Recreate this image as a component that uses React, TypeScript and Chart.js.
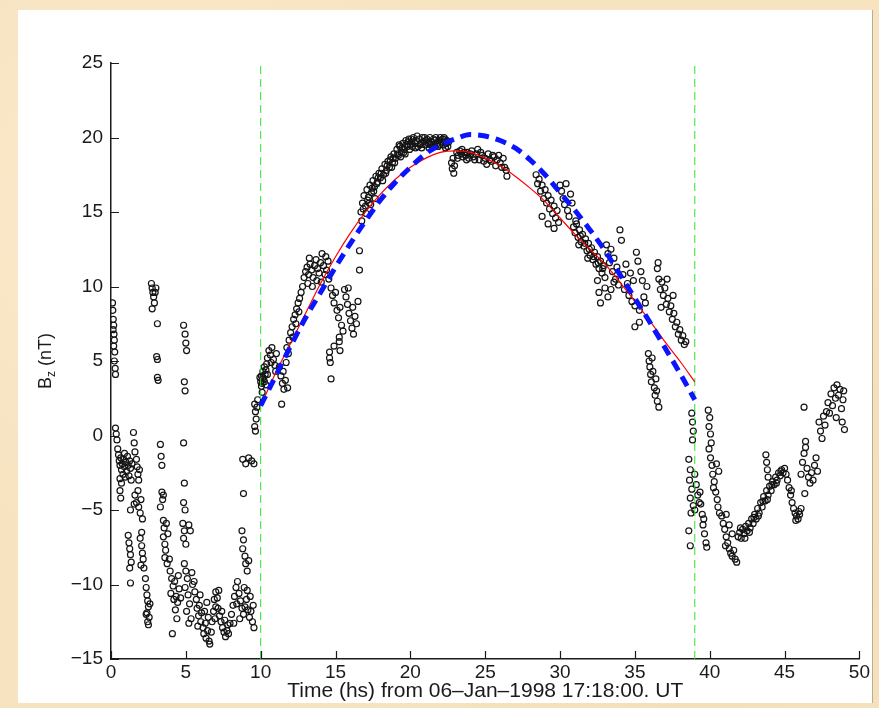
import React, { useEffect, useRef } from "react";
import { Chart, registerables } from "chart.js";

Chart.register(...registerables);

type Pt = [number, number];

// Axis ticks
const xTicks = [0, 5, 10, 15, 20, 25, 30, 35, 40, 45, 50];
const yTicks = [-15, -10, -5, 0, 5, 10, 15, 20, 25];
const xTitle = "Time (hs) from 06\u2013Jan\u20131998 17:18:00. UT";

// Cloud boundaries (green dashed lines)
const boundaryTimes = [10, 39];

// Fit curves
const fitTimes = [10, 11, 12, 13, 14, 15, 16, 17, 18, 19, 20, 21, 22, 23, 24, 25, 26, 27, 28, 29, 30, 31, 32, 33, 34, 35, 36, 37, 38, 39];
const redFit = [2.0, 4.2, 6.2, 8.2, 10.2, 12.0, 13.6, 15.0, 16.2, 17.2, 18.0, 18.6, 19.0, 19.1, 19.0, 18.6, 18.1, 17.4, 16.6, 15.7, 14.6, 13.5, 12.5, 11.5, 10.3, 9.0, 7.7, 6.3, 5.0, 3.6];
const blueFit = [2.0, 4.0, 6.0, 7.9, 9.6, 11.3, 12.9, 14.4, 15.8, 17.0, 18.0, 18.9, 19.5, 19.9, 20.2, 20.1, 19.8, 19.3, 18.5, 17.5, 16.3, 15.1, 13.8, 12.4, 10.8, 9.2, 7.6, 5.9, 4.2, 2.4];

// Observed Bz (time [hs], Bz [nT])
const obsQuiet: Pt[] = [
  [0.10, 8.9], [0.12, 8.4], [0.15, 7.8], [0.18, 7.4], [0.14, 7.1], [0.20, 6.8], [0.22, 6.4], [0.18, 6.0], [0.25, 5.6], [0.22, 5.0], [0.28, 4.5], [0.30, 4.1],
  [0.30, 0.5], [0.35, 0.1], [0.40, -0.3], [0.45, -0.9],
  [0.50, -1.3], [0.55, -1.7], [0.60, -2.0], [0.65, -1.5], [0.70, -2.3], [0.75, -1.9], [0.80, -2.6], [0.85, -1.6], [0.90, -2.1], [0.95, -2.8], [1.00, -1.8], [1.05, -2.4], [1.10, -1.4], [1.15, -2.0], [1.20, -2.7], [1.25, -1.7], [1.30, -2.2], [1.35, -3.0], [0.60, -2.9], [0.70, -3.2], [0.90, -1.2], [1.40, -1.9],
  [1.50, 0.2], [1.55, -0.5], [1.60, -1.1], [1.70, -1.6], [1.75, -2.1], [1.80, -2.6], [1.85, -3.0], [1.90, -2.3],
  [0.60, -3.7], [0.65, -4.2], [1.30, -5.0], [1.60, -4.0], [1.70, -4.5], [1.80, -3.7], [1.85, -4.8], [1.95, -5.2], [2.00, -4.3], [2.10, -5.6], [1.55, -4.6],
  [1.15, -6.7], [1.20, -7.2], [1.25, -7.6], [1.30, -8.0], [1.35, -8.5], [1.25, -8.9], [1.95, -6.9], [2.05, -7.4], [2.10, -7.9], [2.15, -8.3], [2.00, -8.7], [2.20, -8.9], [1.30, -9.9], [2.05, -6.5],
  [2.30, -9.6], [2.35, -10.2], [2.40, -10.7], [2.45, -11.1], [2.50, -11.5], [2.40, -11.9], [2.55, -12.2], [2.45, -12.5], [2.60, -11.3], [2.50, -12.7], [2.35, -12.0],
  [2.70, 10.2], [2.75, 9.9], [2.80, 9.6], [2.85, 9.3], [2.90, 8.9], [2.75, 8.5], [3.00, 9.9], [2.95, 9.6],
  [3.10, 7.5], [3.05, 5.3], [3.10, 5.1], [3.10, 3.9], [3.15, 3.7],
  [3.30, -0.6], [3.35, -1.4], [3.40, -2.0],
  [3.40, -3.8], [3.45, -4.3], [3.30, -4.8], [3.50, -4.0],
  [3.50, -5.7], [3.55, -6.2], [3.50, -6.8], [3.60, -7.3], [3.65, -7.7], [3.60, -8.2], [3.75, -8.6], [3.70, -5.9], [3.80, -6.6],
  [3.95, -9.1], [4.05, -9.6], [4.15, -10.1], [4.00, -10.6], [4.25, -9.8], [4.35, -10.8], [4.45, -11.2], [4.30, -11.7], [4.55, -10.3], [4.65, -10.9], [4.10, -13.3], [4.40, -12.3], [4.20, -11.0], [3.90, -8.3], [4.50, -9.4],
  [4.85, 7.4], [4.95, 6.8], [5.00, 6.2], [5.05, 5.7], [4.90, 3.6], [4.95, 3.0], [4.85, -0.5], [4.90, -3.2], [4.85, -4.5], [4.95, -5.0], [4.80, -5.9], [4.90, -6.4], [4.85, -6.9], [5.00, -7.3], [5.20, -6.0], [5.30, -6.4],
  [4.90, -8.6], [5.00, -9.1], [5.10, -9.6], [4.95, -10.2], [5.15, -10.7], [5.25, -11.3], [5.05, -11.8], [5.35, -12.3], [5.20, -12.6], [5.40, -9.2], [5.45, -10.0],
  [5.55, -9.8], [5.60, -10.5], [5.70, -11.0], [5.75, -11.6], [5.85, -12.1], [5.90, -11.4], [6.00, -12.5], [6.05, -11.9], [6.15, -12.9], [6.20, -13.3], [6.30, -12.6], [6.35, -13.6], [6.45, -13.1], [6.55, -13.8], [6.60, -14.0], [6.50, -12.2], [5.95, -10.7], [6.25, -11.8], [6.40, -11.2], [5.80, -12.8],
  [6.70, -13.2], [6.75, -12.5], [6.85, -11.8], [6.90, -11.0], [7.00, -10.5], [7.10, -10.9], [7.15, -11.6], [7.25, -12.1], [7.35, -12.5], [7.45, -12.9], [7.55, -13.2], [7.65, -13.5], [7.75, -13.1], [7.85, -13.3], [7.00, -11.5], [7.20, -10.4], [7.40, -11.8], [7.60, -12.4], [7.80, -12.7], [6.95, -12.3],
  [7.95, -12.6], [8.05, -12.0], [8.15, -11.4], [8.25, -10.8], [8.35, -10.2], [8.45, -9.8], [8.55, -10.6], [8.65, -11.1], [8.75, -11.6], [8.85, -12.0], [8.95, -11.5], [9.05, -11.0], [9.15, -11.7], [9.25, -12.2], [9.35, -11.8], [9.45, -12.5], [9.55, -12.9], [8.40, -11.3], [8.60, -12.3], [9.10, -10.4], [9.30, -10.8], [9.50, -11.4], [8.20, -12.6], [8.90, -10.2],
  [8.75, -6.4], [8.85, -7.0], [8.80, -7.6], [8.95, -8.1], [9.00, -8.6], [9.10, -9.1], [9.20, -8.4], [8.85, -3.9], [8.80, -1.6], [9.00, -1.9], [9.20, -1.5], [9.40, -1.7], [9.55, -1.9],
  [9.60, 2.1], [9.65, 1.6], [9.70, 1.1], [9.60, 0.6], [9.65, 0.3],
];

const obsRise: Pt[] = [
  [9.75, 1.9], [9.80, 2.4], [10.00, 3.6], [10.05, 4.0], [10.10, 3.5], [10.15, 4.3], [10.20, 3.8], [10.25, 4.6], [10.30, 4.1], [10.35, 3.4], [10.40, 4.8], [10.10, 2.9],
  [10.05, 3.3], [10.15, 3.9], [10.25, 3.6], [10.35, 4.4], [10.45, 4.1], [9.95, 3.9],
  [10.45, 5.2], [10.55, 5.7], [10.65, 5.4], [10.75, 5.9], [10.85, 5.1], [10.95, 4.7], [11.05, 5.5], [11.00, 4.3], [10.70, 4.9],
  [11.25, 4.6], [11.35, 4.0], [11.45, 3.5], [11.55, 3.1], [11.50, 4.3], [11.65, 3.7], [11.40, 2.1], [11.70, 4.9], [11.80, 3.2],
  [11.75, 5.9], [11.90, 6.4], [12.00, 6.9], [12.10, 7.3], [12.20, 7.8], [12.30, 8.1], [12.40, 8.5], [12.50, 8.9], [12.60, 9.2], [12.15, 6.6], [12.35, 7.5], [12.55, 8.3], [11.85, 5.5], [12.70, 9.6], [12.80, 10.0],
  [12.90, 10.6], [13.00, 11.0], [13.10, 11.3], [13.20, 10.8], [13.30, 11.5], [13.40, 11.1], [13.50, 10.6], [13.60, 11.4], [13.70, 11.8], [13.80, 11.2], [13.90, 10.9], [14.00, 11.6], [14.10, 12.2], [14.20, 11.4], [14.30, 10.8], [14.40, 11.1], [14.50, 11.7], [13.15, 10.2], [13.45, 10.0], [13.75, 10.4], [14.05, 10.3], [14.35, 12.0], [14.55, 10.5], [13.25, 11.9],
  [14.70, 9.9], [14.80, 9.4], [14.90, 8.9], [15.00, 9.6], [15.10, 8.4], [15.20, 7.9], [15.30, 8.6], [15.40, 7.4], [15.50, 7.0], [15.60, 9.8], [15.70, 9.3], [15.80, 8.8], [15.90, 8.2], [16.00, 7.7], [16.10, 7.2], [16.20, 6.8], [16.30, 8.0], [16.40, 7.5], [16.50, 9.0], [15.85, 9.9], [16.15, 8.6], [15.25, 6.6], [14.90, 6.0], [15.30, 5.7], [15.25, 6.3],
  [14.60, 5.2], [14.65, 4.9], [14.70, 3.8], [14.60, 5.6],
  [16.60, 12.4], [16.60, 11.1],
  [16.70, 15.0], [16.80, 15.6], [16.90, 16.1], [17.00, 15.4], [17.10, 16.5], [17.20, 16.0], [17.30, 16.8], [17.40, 16.3], [17.50, 17.1], [17.60, 16.7], [17.70, 17.4], [17.80, 17.0], [17.90, 17.6], [18.00, 17.3], [18.10, 17.9], [18.20, 17.5], [18.30, 18.2], [18.40, 17.8], [18.50, 18.4], [18.60, 18.0], [18.70, 18.7], [18.80, 18.3], [18.90, 18.9], [19.00, 18.6], [16.75, 14.4], [17.05, 14.9], [17.35, 15.5],
  [17.15, 15.8], [17.45, 16.6], [17.75, 16.9], [18.05, 17.6], [18.35, 17.6], [18.65, 18.5], [18.95, 18.3], [16.85, 15.2],
  [17.25, 15.6], [17.55, 16.4], [17.85, 17.3], [18.15, 17.1], [18.45, 18.1], [18.75, 18.0], [18.85, 18.6], [17.65, 15.9],
];

const obsCrest: Pt[] = [
  [19.10, 19.2], [19.20, 18.8], [19.30, 19.4], [19.40, 19.0], [19.50, 19.6], [19.60, 19.2], [19.70, 19.8], [19.80, 19.4], [19.90, 19.9], [20.00, 19.5], [20.10, 19.7], [20.20, 20.0], [20.30, 19.6], [20.40, 19.8], [20.50, 19.4], [20.60, 19.9], [20.70, 19.6], [20.80, 20.0], [20.90, 19.7], [21.00, 19.5], [21.10, 19.9], [21.20, 19.6], [21.30, 20.0], [21.40, 19.7], [21.50, 19.5], [21.60, 19.8], [21.70, 20.0], [21.80, 19.6], [21.90, 19.8], [22.00, 20.0], [22.10, 19.7], [22.20, 19.5], [22.30, 19.9], [22.40, 19.6], [22.50, 19.4],
  [19.15, 18.9], [19.45, 19.3], [19.75, 19.5], [20.05, 19.9], [20.35, 19.3], [20.65, 19.5], [20.95, 20.0], [21.25, 19.3], [21.55, 19.9], [21.85, 19.4], [22.15, 19.9], [22.45, 19.8], [19.35, 18.7], [19.65, 18.9], [19.95, 19.2],
  [19.25, 19.5], [19.55, 19.0], [19.85, 19.7], [20.15, 19.4], [20.45, 20.1], [20.75, 19.3], [21.05, 19.8], [21.35, 19.5], [21.65, 19.6], [21.95, 19.5], [22.25, 20.0], [22.55, 19.7], [22.35, 19.3],
  [22.75, 18.3], [22.80, 17.9], [22.85, 18.6], [22.90, 17.6], [22.95, 18.1],
  [23.10, 19.0], [23.20, 18.8], [23.30, 19.1], [23.40, 18.9], [23.50, 18.7], [23.60, 19.0], [23.70, 18.8], [23.80, 19.0], [23.90, 18.6], [24.00, 18.9], [24.20, 18.7], [24.40, 18.9], [24.60, 18.5], [24.80, 18.8], [25.00, 18.6], [25.20, 18.9], [25.40, 18.4], [25.60, 18.7], [25.80, 18.5], [26.00, 18.3], [26.20, 18.6], [26.40, 17.8], [24.50, 19.2], [25.10, 18.2], [25.70, 18.1], [26.30, 18.0], [26.45, 17.4],
  [23.15, 18.6], [23.45, 19.2], [23.75, 18.5], [24.10, 19.1], [24.30, 18.5], [24.70, 19.0], [24.90, 18.4], [25.30, 18.5], [25.50, 18.8], [25.90, 18.8], [26.10, 18.0],
];

const obsDecay: Pt[] = [
  [28.40, 17.5], [28.50, 16.9], [28.60, 17.2], [28.70, 16.4], [28.80, 16.8], [28.90, 15.9], [29.00, 16.5], [29.10, 15.6], [29.20, 16.1], [29.30, 15.2], [29.40, 15.8], [29.50, 14.9], [29.60, 15.4], [29.70, 14.6], [29.80, 15.1], [29.90, 14.3], [30.00, 16.8], [30.10, 16.4], [30.20, 15.9], [30.30, 15.5], [30.40, 16.9], [30.50, 15.1], [28.80, 14.7], [29.20, 14.2], [29.60, 13.9], [30.60, 14.7], [30.70, 16.2], [30.80, 15.6],
  [30.90, 14.0], [31.00, 13.6], [31.10, 14.2], [31.20, 13.3], [31.30, 13.8], [31.40, 13.0], [31.50, 13.5], [31.60, 12.7], [31.70, 13.2], [31.80, 12.4], [31.90, 12.9], [32.00, 12.1], [32.10, 12.6], [32.20, 11.8], [32.30, 12.3], [32.40, 11.5], [32.50, 12.0], [32.60, 11.2], [32.70, 11.7], [32.80, 10.9], [32.90, 11.4], [33.00, 10.6],
  [31.05, 14.4], [31.35, 13.4], [31.65, 12.9], [31.95, 12.5], [32.25, 12.0], [32.55, 11.6], [32.85, 11.2], [31.25, 12.8], [31.85, 11.9],
  [32.50, 10.4], [32.60, 9.6], [32.70, 8.9], [33.00, 9.9], [33.20, 9.3], [33.40, 9.8], [33.60, 10.3],
  [33.10, 12.8], [33.20, 12.2], [33.30, 11.6], [33.40, 12.5], [33.50, 11.0], [33.60, 11.9], [33.70, 10.5], [33.80, 11.3], [33.90, 10.1], [34.00, 13.8], [34.10, 13.1], [34.20, 10.8], [34.30, 9.8], [34.40, 11.5], [34.50, 10.2], [34.60, 9.4], [34.70, 10.9], [34.80, 9.0], [34.90, 10.4], [35.00, 8.7], [35.10, 12.3], [35.20, 11.7], [35.30, 8.4], [35.40, 11.0], [35.50, 10.4], [35.60, 9.3], [35.70, 8.9], [35.80, 10.0], [35.30, 7.6], [35.00, 7.3],
  [35.90, 5.5], [35.95, 5.0], [36.00, 4.6], [36.05, 4.1], [36.10, 3.6], [36.20, 4.3], [36.30, 3.2], [36.35, 2.7], [36.40, 3.8], [36.50, 2.3], [36.60, 1.9], [36.15, 5.2], [36.45, 3.0],
  [36.50, 11.2], [36.60, 10.5], [36.70, 9.8], [36.55, 11.6], [36.80, 10.3], [36.90, 9.4], [37.00, 9.9], [37.10, 8.8], [37.20, 9.2], [37.30, 8.3], [37.40, 8.7], [37.50, 7.8], [37.60, 8.2], [37.70, 7.3], [37.80, 7.6], [37.90, 6.8], [38.00, 7.1], [38.10, 6.4], [38.20, 6.7], [38.30, 6.1], [38.40, 6.3], [36.75, 8.6], [37.15, 10.5], [37.55, 9.4],
];

const obsRecovery: Pt[] = [
  [38.80, 1.5], [38.85, 0.9], [38.90, 0.3], [38.85, -0.3],
  [38.60, -1.6], [38.70, -2.3], [38.65, -3.0], [38.80, -3.6], [38.70, -4.2], [38.90, -4.7], [38.75, -5.2], [38.60, -6.4], [38.70, -7.4], [39.00, -2.6], [39.10, -3.3], [39.20, -4.0], [39.00, -5.0], [39.30, -4.5],
  [39.90, 1.7], [40.00, 1.2], [39.95, 0.6], [40.05, 0.1], [40.10, -0.5],
  [39.95, -0.9], [40.05, -1.5], [40.15, -2.0], [40.20, -2.6], [40.30, -3.1], [40.25, -3.5], [40.40, -3.8], [40.50, -4.3], [40.55, -4.8], [40.65, -5.2], [40.45, -1.9], [40.60, -2.4],
  [39.35, -3.8], [39.40, -4.6], [39.50, -5.3], [39.55, -6.0], [39.65, -6.6], [39.75, -7.2], [39.80, -7.5], [39.60, -5.6],
  [40.80, -5.4], [40.90, -5.9], [41.00, -6.3], [41.10, -6.8], [41.20, -7.2], [41.30, -7.6], [41.40, -7.9], [41.50, -8.1], [41.60, -7.7], [41.70, -8.3], [41.80, -8.5], [41.10, -5.3], [41.30, -6.0], [41.50, -6.6], [41.05, -7.4],
  [41.90, -6.8], [42.00, -6.5], [42.10, -6.9], [42.20, -6.3], [42.30, -6.6], [42.40, -6.1], [42.50, -6.4], [42.60, -5.9], [42.70, -6.2], [42.80, -5.6], [42.90, -5.9], [43.00, -5.3], [43.10, -5.6], [43.20, -4.9], [43.30, -5.2], [43.40, -4.5], [43.50, -4.8], [43.60, -4.1], [43.70, -4.4], [43.80, -3.7], [43.90, -4.0], [44.00, -3.4], [44.10, -3.7], [44.20, -3.1], [44.30, -3.3], [44.40, -2.8], [44.50, -3.0], [44.60, -2.5], [44.70, -2.7], [44.80, -2.3], [44.90, -2.5], [45.00, -2.2], [45.10, -2.6], [43.75, -1.3], [43.80, -1.8], [43.85, -2.3], [43.90, -2.8],
  [42.05, -6.2], [42.35, -6.9], [42.65, -6.5], [42.95, -5.5], [43.25, -5.4], [43.55, -4.4], [43.85, -4.3], [44.15, -3.3], [44.45, -3.2], [44.75, -2.4],
  [45.20, -3.0], [45.30, -3.5], [45.40, -4.0], [45.50, -4.5], [45.60, -4.9], [45.70, -5.2], [45.80, -5.4], [45.90, -5.6], [46.00, -5.3], [46.10, -4.9], [45.75, -5.7], [45.95, -5.1], [45.45, -3.7],
  [46.10, -2.6], [46.20, -1.8], [46.30, -1.2], [46.40, -0.8], [46.50, -2.2], [46.60, -2.8], [46.70, -3.2], [46.80, -2.5], [46.90, -3.0], [47.00, -2.0], [47.10, -1.5], [47.20, -2.4], [46.35, -3.9], [46.40, -0.4], [46.30, 1.9],
  [47.30, 0.9], [47.40, 0.3], [47.50, -0.2], [47.60, 1.3], [47.70, 0.7], [47.80, 1.6], [47.90, 2.2], [48.00, 1.5], [48.10, 2.8], [48.20, 2.0], [48.30, 3.2], [48.40, 2.5], [48.50, 3.4], [48.60, 2.7], [48.70, 3.1], [48.80, 1.8], [48.90, 2.4], [49.00, 0.4], [48.85, 0.9], [48.95, 3.0], [48.45, 1.2],
];

const FONT = '"Liberation Sans", Arial, Helvetica, sans-serif';
const INK = "#1a1a1a";

const fmt = (v: number) => (v < 0 ? "\u2212" + Math.abs(v) : String(v));

const decorPlugin = {
  id: "decor",
  afterDraw(chart: any) {
    const { ctx, chartArea: a, scales } = chart;
    const xs = scales.x;
    const ys = scales.y;
    ctx.save();
    ctx.strokeStyle = INK;
    ctx.lineWidth = 1.2;
    ctx.beginPath();
    xTicks.forEach((v) => {
      const p = Math.round(xs.getPixelForValue(v)) + 0.5;
      ctx.moveTo(p, a.bottom);
      ctx.lineTo(p, a.bottom - 8);
    });
    yTicks.forEach((v) => {
      const p = Math.round(ys.getPixelForValue(v)) + 0.5;
      ctx.moveTo(a.left, p);
      ctx.lineTo(a.left + 8, p);
    });
    ctx.stroke();

    ctx.fillStyle = INK;
    ctx.font = `21px ${FONT}`;
    ctx.textAlign = "center";
    ctx.textBaseline = "middle";
    ctx.fillText(xTitle, (a.left + a.right) / 2, a.bottom + 32);

    ctx.translate(a.left - 66, (a.top + a.bottom) / 2);
    ctx.rotate(-Math.PI / 2);
    const mainFont = `18px ${FONT}`;
    const subFont = `12px ${FONT}`;
    ctx.font = mainFont;
    const wB = ctx.measureText("B").width;
    const rest = " (nT)";
    const wRest = ctx.measureText(rest).width;
    ctx.font = subFont;
    const wz = ctx.measureText("z").width;
    let x0 = -(wB + wz + wRest) / 2;
    ctx.textAlign = "left";
    ctx.textBaseline = "alphabetic";
    ctx.font = mainFont;
    ctx.fillText("B", x0, 6);
    x0 += wB;
    ctx.font = subFont;
    ctx.fillText("z", x0, 10);
    x0 += wz;
    ctx.font = mainFont;
    ctx.fillText(rest, x0, 6);
    ctx.restore();
  },
};

export default function App() {
  const ref = useRef<HTMLCanvasElement | null>(null);

  useEffect(() => {
    if (!ref.current) return;
    const toXY = (pts: Pt[]) => pts.map(([x, y]) => ({ x, y }));
    const observations = [
      ...toXY(obsQuiet),
      ...toXY(obsRise),
      ...toXY(obsCrest),
      ...toXY(obsDecay),
      ...toXY(obsRecovery),
    ];
    const fitRed = fitTimes.map((t, i) => ({ x: t, y: redFit[i] }));
    const fitBlue = fitTimes.map((t, i) => ({ x: t, y: blueFit[i] }));
    const boundaryDatasets = boundaryTimes.map((t) => ({
      type: "line" as const,
      data: [
        { x: t, y: yTicks[0] },
        { x: t, y: yTicks[yTicks.length - 1] },
      ],
      borderColor: "rgb(40, 230, 40)",
      borderWidth: 1,
      borderDash: [8, 5],
      pointRadius: 0,
      fill: false,
      order: 2,
    }));

    const chart = new Chart(ref.current, {
      type: "scatter",
      data: {
        datasets: [
          {
            type: "line",
            data: fitBlue,
            borderColor: "#0a14ff",
            borderWidth: 5,
            borderDash: [11, 7],
            pointRadius: 0,
            cubicInterpolationMode: "monotone",
            fill: false,
            order: 0,
          } as any,
          {
            type: "line",
            data: fitRed,
            borderColor: "#ff0000",
            borderWidth: 1.2,
            pointRadius: 0,
            cubicInterpolationMode: "monotone",
            fill: false,
            order: 1,
          } as any,
          ...(boundaryDatasets as any[]),
          {
            type: "scatter",
            data: observations,
            pointStyle: "circle",
            pointRadius: 3,
            borderWidth: 1.2,
            borderColor: "#151515",
            backgroundColor: "rgba(0,0,0,0)",
            order: 3,
          } as any,
        ],
      },
      options: {
        animation: false,
        responsive: false,
        events: [],
        layout: { padding: { top: 53, right: 11, left: 0, bottom: 0 } },
        plugins: {
          legend: { display: false },
          tooltip: { enabled: false },
        },
        scales: {
          x: {
            type: "linear",
            min: xTicks[0],
            max: xTicks[xTicks.length - 1],
            afterFit: (s: any) => {
              s.height = 44;
            },
            ticks: {
              stepSize: 5,
              autoSkip: false,
              maxRotation: 0,
              padding: 2,
              color: INK,
              font: { family: FONT, size: 19 },
              callback: (v: any) => fmt(Number(v)),
            },
            grid: { display: false, drawTicks: false },
            border: { display: true, color: INK, width: 1.5 },
          },
          y: {
            type: "linear",
            min: yTicks[0],
            max: yTicks[yTicks.length - 1],
            afterFit: (s: any) => {
              s.width = 93;
            },
            ticks: {
              stepSize: 5,
              autoSkip: false,
              padding: 8,
              color: INK,
              font: { family: FONT, size: 19 },
              callback: (v: any) => fmt(Number(v)),
            },
            grid: { display: false, drawTicks: false },
            border: { display: true, color: INK, width: 1.5 },
          },
        },
      },
      plugins: [decorPlugin],
    });
    return () => chart.destroy();
  }, []);

  return (
    <div
      style={{
        position: "fixed",
        inset: 0,
        background:
          "radial-gradient(circle at 20% 30%, #fbebcd 0%, rgba(251,235,205,0) 40%), radial-gradient(circle at 80% 70%, #f3dcb2 0%, rgba(243,220,178,0) 45%), #f7e3c0",
      }}
    >
      <div
        style={{
          position: "absolute",
          left: 18,
          top: 10,
          width: 854,
          height: 693,
          background: "#ffffff",
          borderRight: "1px solid #b9ad9a",
        }}
      >
        <canvas ref={ref} width={854} height={693} style={{ display: "block" }} />
      </div>
    </div>
  );
}
